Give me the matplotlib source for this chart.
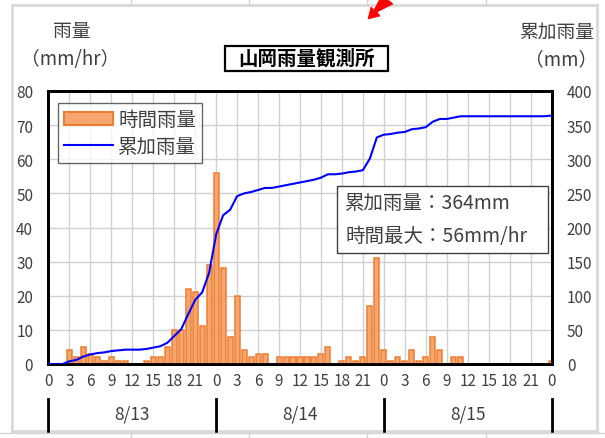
import numpy as np
import matplotlib
matplotlib.use("Agg")
import matplotlib.pyplot as plt
from matplotlib.lines import Line2D
from matplotlib.patches import Rectangle, Polygon
from matplotlib.transforms import blended_transform_factory

plt.rcParams['font.family'] = ['Noto Sans CJK JP', 'DejaVu Sans']

# Hourly rainfall (mm/hr), hour 0 of 8/13 through hour 0 of 8/16
hours = list(range(0, 73))
rain = [0, 0, 0, 4, 2, 5, 3, 2, 1, 2, 1, 1, 0, 0, 1, 2, 2, 5, 10, 10, 22, 21, 11, 29,
        56, 28, 8, 20, 4, 2, 3, 3, 0, 2, 2, 2, 2, 2, 2, 3, 5, 0, 1, 2, 1, 2, 17, 31,
        4, 1, 2, 1, 4, 1, 2, 8, 4, 0, 2, 2, 0, 0, 0, 0, 0, 0, 0, 0, 0, 0, 0, 0, 1]
days = ['8/13', '8/14', '8/15']
station = '山岡雨量観測所'
bar_label = '時間雨量'
line_label = '累加雨量'

hours = np.array(hours)
rain = np.array(rain)
cumulative = np.cumsum(rain)

W, H = 605, 439
fig = plt.figure(figsize=(W / 100, H / 100), dpi=100)
fig.patch.set_facecolor('white')

def fx(px):
    return px / W

def fy(py):
    return 1 - py / H

# sheet cell lines and chart area frame
for x in (131, 249, 367, 486):
    fig.add_artist(Line2D([fx(x), fx(x)], [fy(433), fy(439)], color='#d4d4d4', lw=1))
    fig.add_artist(Line2D([fx(x), fx(x)], [fy(0), fy(6)], color='#d4d4d4', lw=1))
fig.add_artist(Line2D([0, 1], [fy(434), fy(434)], color='#d4d4d4', lw=1))
fig.add_artist(Rectangle((fx(12), fy(432)), fx(597) - fx(12), fy(6) - fy(432),
                         fill=False, edgecolor='#d9d9d9', lw=2))

left_px, right_px, top_px, bot_px = 48.5, 551.5, 92, 365
ax = fig.add_axes([fx(left_px), fy(bot_px), fx(right_px) - fx(left_px), fy(top_px) - fy(bot_px)])
ax2 = ax.twinx()

text_col = '#404040'
bar_face, bar_edge = '#F4A66E', '#ED7D31'

mask = rain > 0
ax.bar(hours[mask], rain[mask], width=0.72, color=bar_face, edgecolor=bar_edge,
       linewidth=1.1, zorder=3, label=bar_label)
ax2.plot(hours, cumulative, color='#0000FF', lw=1.5, zorder=4, label=line_label)

ax.set_xlim(0, 72)
ax.set_ylim(0, 80)
ax2.set_ylim(0, 400)
ax.set_yticks(np.arange(0, 81, 10))
ax2.set_yticks(np.arange(0, 401, 50))
ax.set_xticks(np.arange(0, 73, 3))
ax.set_xticklabels([str(h % 24) for h in range(0, 73, 3)])

ax.grid(True, color='#d0d0d0', lw=1, zorder=0)
ax.set_axisbelow(True)
ax.set_zorder(1)
ax2.set_zorder(2)
ax2.patch.set_visible(False)

for a in (ax, ax2):
    a.tick_params(length=0, labelsize=11, colors=text_col)
    for s in a.spines.values():
        s.set_linewidth(2)
        s.set_color('black')
ax.tick_params(axis='y', pad=11)
ax2.tick_params(axis='y', pad=11)
ax.tick_params(axis='x', pad=6)

# day separators and day labels under the hour axis
tr = blended_transform_factory(ax.transData, ax.transAxes)
for d in (0, 24, 48, 72):
    ax.add_line(Line2D([d, d], [-0.128, -0.245], transform=tr, color='black', lw=2, clip_on=False))
for i, day in enumerate(days):
    ax.text(12 + 24 * i, -0.18, day, transform=tr, ha='center', va='center',
            fontsize=12.5, color=text_col)

# legend
handles = [Rectangle((0, 0), 1, 1, facecolor=bar_face, edgecolor=bar_edge, lw=1.5),
           Line2D([], [], color='#0000FF', lw=1.5)]
leg = ax2.legend(handles, [bar_label, line_label], loc='upper left',
                 bbox_to_anchor=(0.019, 0.955), fontsize=14, frameon=True,
                 fancybox=False, edgecolor='#404040', handlelength=2.5,
                 handleheight=0.7, borderpad=0.3, labelspacing=0.3,
                 handletextpad=0.3, borderaxespad=0)
leg.get_frame().set_linewidth(1)
for t in leg.get_texts():
    t.set_color(text_col)

# summary box
ax2.add_patch(Rectangle((0.5736, 0.4066), 0.4194, 0.2454, transform=ax.transAxes,
                        facecolor='white', edgecolor='#404040', lw=1, zorder=6))
ax2.text(0.590, 0.593, f'{line_label}：{cumulative[-1]}mm', transform=ax.transAxes,
         ha='left', va='center', fontsize=14, color=text_col, zorder=7)
ax2.text(0.590, 0.469, f'時間最大：{rain.max()}mm/hr', transform=ax.transAxes,
         ha='left', va='center', fontsize=14, color=text_col, zorder=7)

# title box and axis captions
fig.add_artist(Rectangle((fx(225), fy(72)), fx(388) - fx(225), fy(47) - fy(72),
                         facecolor='white', edgecolor='black', lw=1.6))
fig.text(fx(306), fy(59), station, ha='center', va='center', fontsize=14,
         fontweight='bold', color='black')
fig.text(fx(72), fy(32), '雨量', ha='center', va='center', fontsize=13.5, color=text_col)
fig.text(fx(70), fy(60), '（mm/hr）', ha='center', va='center', fontsize=13.5, color=text_col)
fig.text(fx(557), fy(32), '累加雨量', ha='center', va='center', fontsize=13.5, color=text_col)
fig.text(fx(561), fy(60), '（mm）', ha='center', va='center', fontsize=13.5, color=text_col)

# red pointer arrow at the top edge
arrow = [(387, 0), (393, 5), (377, 13), (380, 17), (368, 20), (371, 8), (374, 11), (382, -4)]
fig.add_artist(Polygon([(fx(x), fy(y)) for x, y in arrow], closed=True,
                       facecolor='#ff0000', edgecolor='#ff0000', lw=0.5))

fig.savefig('out.png', dpi=100, facecolor='white')
